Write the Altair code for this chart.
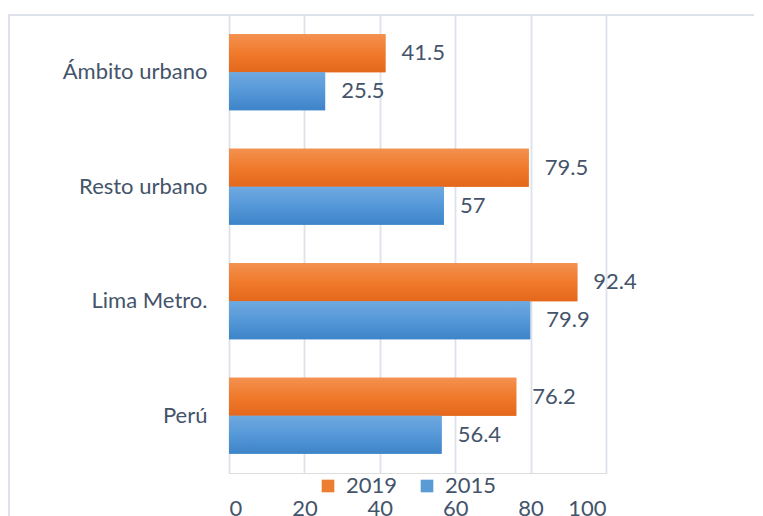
import altair as alt
import pandas as pd

categories = ["Ámbito urbano", "Resto urbano", "Lima Metro.", "Perú"]
years = ["2019", "2015"]
values_2019 = [41.5, 79.5, 92.4, 76.2]
values_2015 = [25.5, 57, 79.9, 56.4]
labels_2019 = ["41.5", "79.5", "92.4", "76.2"]
labels_2015 = ["25.5", "57", "79.9", "56.4"]
x_ticks = [0, 20, 40, 60, 80, 100]

rows = []
for c, v, l in zip(categories, values_2019, labels_2019):
    rows.append({"cat": c, "year": "2019", "value": v, "label": l})
for c, v, l in zip(categories, values_2015, labels_2015):
    rows.append({"cat": c, "year": "2015", "value": v, "label": l})
df = pd.DataFrame(rows)

TXT = "#44546A"
FONT = "Lato"
W, H = 377, 458

y_enc = alt.Y("cat:N", sort=categories,
              scale=alt.Scale(paddingInner=0.336, paddingOuter=0.168),
              axis=alt.Axis(title=None, domain=False, ticks=False, grid=False,
                            labelFontSize=22, labelColor=TXT, labelFont=FONT,
                            labelPadding=22))
x_enc = alt.X("value:Q", scale=alt.Scale(domain=[0, 100], nice=False),
              axis=alt.Axis(title=None, values=x_ticks, domain=False, ticks=False,
                            grid=True, gridColor="#DCE1EA", gridWidth=1.8,
                            labelFontSize=22, labelColor=TXT, labelFont=FONT,
                            labelPadding=25))
yoff = alt.YOffset("year:N", sort=years, scale=alt.Scale(domain=years))

base = alt.Chart(df)

solid = base.mark_bar().encode(
    y=y_enc, x=x_enc, yOffset=yoff,
    color=alt.Color("year:N", sort=years,
                    scale=alt.Scale(domain=years, range=["#ED7D31", "#5B9BD5"]),
                    legend=alt.Legend(title=None, orient="none", direction="horizontal",
                                      legendX=88, legendY=460, symbolType="square",
                                      symbolSize=160, symbolStrokeWidth=0,
                                      labelFontSize=22, labelColor=TXT, labelFont=FONT,
                                      columnPadding=18, labelOffset=7)),
)

grad_or = alt.Gradient(gradient="linear", x1=0, x2=0, y1=0, y2=1,
                       stops=[alt.GradientStop(color="#F3914F", offset=0),
                              alt.GradientStop(color="#F07A2C", offset=0.5),
                              alt.GradientStop(color="#E4681C", offset=1)])
grad_bl = alt.Gradient(gradient="linear", x1=0, x2=0, y1=0, y2=1,
                       stops=[alt.GradientStop(color="#6FA9E0", offset=0),
                              alt.GradientStop(color="#5598D8", offset=0.5),
                              alt.GradientStop(color="#3D84C8", offset=1)])

g19 = base.mark_bar(color=grad_or).encode(y=y_enc, x=x_enc, yOffset=yoff).transform_filter(
    alt.datum.year == "2019")
g15 = base.mark_bar(color=grad_bl).encode(y=y_enc, x=x_enc, yOffset=yoff).transform_filter(
    alt.datum.year == "2015")

text = base.mark_text(align="left", dx=16, fontSize=22, color=TXT, font=FONT).encode(
    y=y_enc, x=x_enc, yOffset=yoff, text="label:N")

border_top = alt.Chart(pd.DataFrame({"a": [0]})).mark_rule(color="#DDE2EA", strokeWidth=2).encode(
    x=alt.value(-221), x2=alt.value(560), y=alt.value(0))
border_left = alt.Chart(pd.DataFrame({"a": [0]})).mark_rule(color="#DDE2EA", strokeWidth=2).encode(
    x=alt.value(-220), y=alt.value(0), y2=alt.value(H + 80))

chart = alt.layer(solid, g19, g15, text, border_top, border_left).properties(
    width=W, height=H,
    autosize=alt.AutoSizeParams(type="none"),
    padding={"left": 221, "top": 7, "right": 148, "bottom": 55},
).configure_view(stroke=None).configure(background="white")

chart.save("out.html", embed_options={"renderer": "svg", "actions": False})
